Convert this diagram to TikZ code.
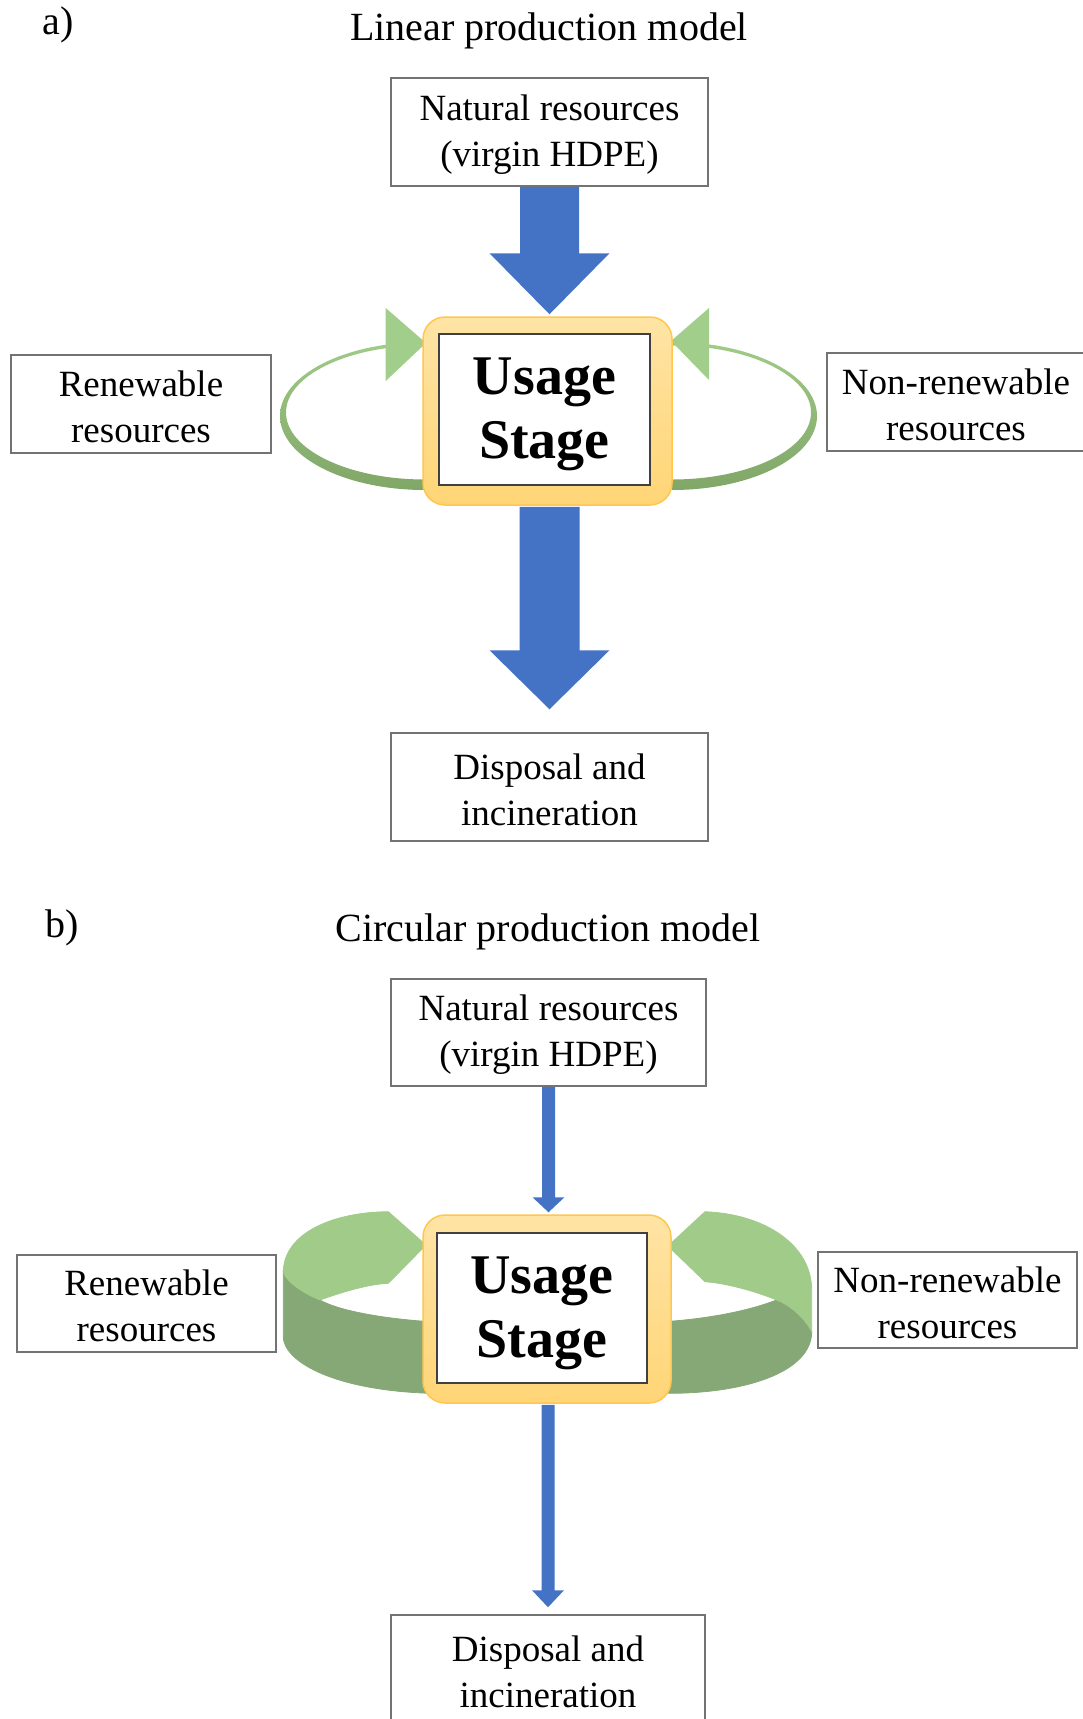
\documentclass[tikz,border=0pt]{standalone}
\usepackage{fontspec}
\setmainfont{Liberation Serif}
\usetikzlibrary{calc}

\definecolor{arrowblue}{RGB}{68,114,196}
\definecolor{boxgray}{RGB}{115,115,115}
\definecolor{innergray}{RGB}{64,64,64}
\definecolor{frametop}{RGB}{255,228,165}
\definecolor{framebot}{RGB}{255,213,118}
\definecolor{frameedge}{RGB}{255,198,80}
\definecolor{greenhead}{RGB}{162,206,140}
\definecolor{greenlight}{RGB}{160,203,136}
\definecolor{greenlow}{RGB}{128,166,104}
\definecolor{greendark}{RGB}{134,168,118}

\tikzset{
  box/.style={draw=boxgray, line width=1.5pt, fill=white, inner sep=0pt},
  boxtext/.style={inner sep=0pt, align=center, yshift=-2.5pt,
    font=\fontsize{37}{46}\selectfont},
  heading/.style={inner sep=0pt, font=\fontsize{40}{48}\selectfont},
  usagebox/.style={draw=innergray, line width=2pt, fill=white, inner sep=0pt},
  usagetext/.style={inner sep=0pt, align=center, yshift=-5pt,
    font=\fontsize{56}{64}\selectfont\bfseries},
  yellowframe/.style={draw=frameedge, line width=1.5pt, top color=frametop,
    bottom color=framebot, rounded corners=22pt, inner sep=0pt},
  bluearrow/.style={fill=arrowblue},
  loopband/.style={even odd rule, top color=greenlight, bottom color=greenlow},
  bandtop/.style={fill=greenlight, draw=greenlight, line width=0.8pt},
  bandside/.style={fill=greendark, draw=greendark, line width=0.8pt},
}

\begin{document}
\begin{tikzpicture}[x=1pt,y=-1pt]
\path[use as bounding box] (0,0) rectangle (1083,1719);
\clip (0,0) rectangle (1083,1719);

% ---------------- a) linear model ----------------
\node[heading] (labA) at (58,25) {a)};
\node[heading] (titleA) at (549,31) {Linear production model};

% green return loops
\begin{scope}
  \clip (0,300) rectangle (425,520);
  \shade[loopband] (425,416) ellipse [x radius=145pt, y radius=74pt]
                   (425,412.5) ellipse [x radius=139pt, y radius=67pt];
\end{scope}
\begin{scope}
  \clip (672,300) rectangle (1083,520);
  \shade[loopband] (672,416) ellipse [x radius=145pt, y radius=74pt]
                   (672,412.5) ellipse [x radius=139pt, y radius=67pt];
\end{scope}
\fill[greenhead] (385.7,308) -- (426,343) -- (385.7,381) -- cycle;
\fill[greenhead] (709,308) -- (671,341) -- (709,380) -- cycle;

\node[yellowframe, minimum width=249pt, minimum height=188pt] (frameA) at (547.5,411) {};
\node[usagebox, minimum width=211pt, minimum height=151pt,
  label={[usagetext]center:{Usage\\Stage}}] (usageA) at (544.5,409) {};

\node[box, minimum width=317pt, minimum height=108pt,
  label={[boxtext]center:{Natural resources\\(virgin HDPE)}}] (natA) at (549.5,132) {};
\node[box, minimum width=260pt, minimum height=98pt,
  label={[boxtext]center:{Renewable\\resources}}] (renA) at (141,404) {};
\node[box, minimum width=258pt, minimum height=98pt,
  label={[boxtext]center:{Non-renewable\\resources}}] (nonA) at (956,402) {};
\node[box, minimum width=317pt, minimum height=108pt,
  label={[boxtext]center:{Disposal and\\incineration}}] (dispA) at (549.5,787) {};

% thick blue flow arrows
\coordinate (tipA1) at ($(natA.south |- frameA.north)+(0,-2)$);
\fill[bluearrow] ($(natA.south)+(-29.5,0)$) -- ($(tipA1)+(-29.5,-61)$) -- ($(tipA1)+(-60,-61)$)
  -- (tipA1) -- ($(tipA1)+(60,-61)$) -- ($(tipA1)+(29.5,-61)$) -- ($(natA.south)+(29.5,0)$) -- cycle;
\coordinate (tipA2) at ($(dispA.north)+(0,-23)$);
\coordinate (startA2) at (dispA.north |- frameA.south);
\fill[bluearrow] ($(startA2)+(-30,1)$) -- ($(tipA2)+(-30,-59)$) -- ($(tipA2)+(-60,-59)$)
  -- (tipA2) -- ($(tipA2)+(60,-59)$) -- ($(tipA2)+(30,-59)$) -- ($(startA2)+(30,1)$) -- cycle;

% ---------------- b) circular model ----------------
\node[heading] (labB) at (62.5,928) {b)};
\node[heading] (titleB) at (548,932) {Circular production model};

% left green band: top face and side wall
\path[bandside] (283.3,1271.7) -- (283.3,1336.7)
  .. controls (283.3,1360) and (330,1390) .. (430,1393.3)
  -- (430,1321.7)
  .. controls (375,1318) and (335,1309) .. (320,1300)
  .. controls (305,1294) and (286,1282) .. cycle;
\path[bandtop] (388.3,1211.7)
  .. controls (335,1212) and (284,1232) .. (283.3,1271.7)
  .. controls (286,1282) and (305,1294) .. (320,1300)
  .. controls (345,1291) and (370,1284) .. (388.3,1283.3)
  -- (426,1245) -- cycle;

% right green band: top face and side wall
\path[bandside] (665,1321.7)
  .. controls (715,1318) and (750,1310) .. (776.7,1300)
  .. controls (790,1305) and (805,1318) .. (811.7,1331.7)
  .. controls (811.7,1372) and (745,1394) .. (665,1393.3) -- cycle;
\path[bandtop] (668,1246) -- (705,1211.7)
  .. controls (765,1214) and (811.7,1245) .. (811.7,1290)
  -- (811.7,1331.7)
  .. controls (805,1318) and (790,1305) .. (776.7,1300)
  .. controls (755,1291) and (725,1283) .. (705,1281.7) -- cycle;

\node[yellowframe, minimum width=248pt, minimum height=188pt] (frameB) at (547,1309) {};
\node[usagebox, minimum width=210pt, minimum height=150pt,
  label={[usagetext]center:{Usage\\Stage}}] (usageB) at (542,1308) {};

\node[box, minimum width=315pt, minimum height=107pt,
  label={[boxtext]center:{Natural resources\\(virgin HDPE)}}] (natB) at (548.5,1032.5) {};
\node[box, minimum width=259pt, minimum height=97pt,
  label={[boxtext]center:{Renewable\\resources}}] (renB) at (146.5,1303.5) {};
\node[box, minimum width=259pt, minimum height=96pt,
  label={[boxtext]center:{Non-renewable\\resources}}] (nonB) at (947.5,1300) {};
\node[box, minimum width=314pt, minimum height=108pt,
  label={[boxtext]center:{Disposal and\\incineration}}] (dispB) at (548,1669) {};

% thin blue flow arrows
\coordinate (tipB1) at ($(natB.south |- frameB.north)+(0,-2)$);
\fill[bluearrow] ($(natB.south)+(-6.5,0)$) -- ($(tipB1)+(-6.5,-15)$) -- ($(tipB1)+(-16,-15)$)
  -- (tipB1) -- ($(tipB1)+(16,-15)$) -- ($(tipB1)+(6.5,-15)$) -- ($(natB.south)+(6.5,0)$) -- cycle;
\coordinate (tipB2) at ($(dispB.north)+(0,-7)$);
\coordinate (startB2) at (dispB.north |- frameB.south);
\fill[bluearrow] ($(startB2)+(-6.5,1)$) -- ($(tipB2)+(-6.5,-17)$) -- ($(tipB2)+(-16,-17)$)
  -- (tipB2) -- ($(tipB2)+(16,-17)$) -- ($(tipB2)+(6.5,-17)$) -- ($(startB2)+(6.5,1)$) -- cycle;
\end{tikzpicture}
\end{document}
